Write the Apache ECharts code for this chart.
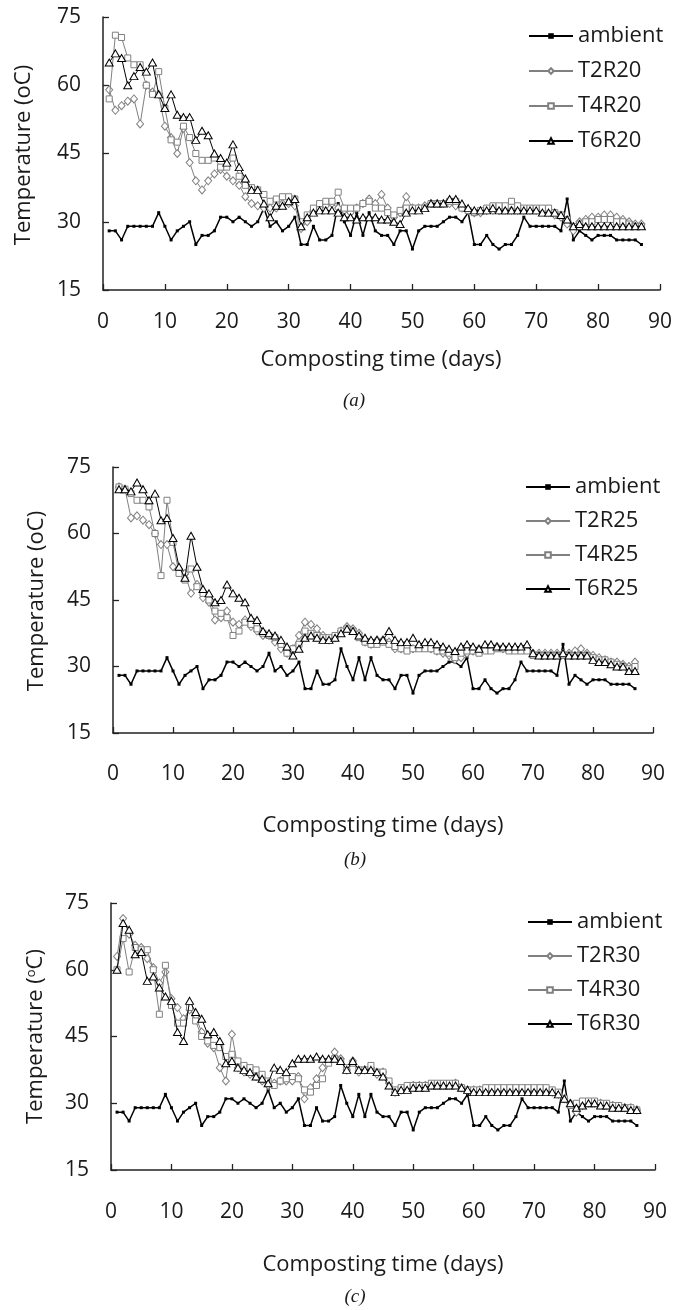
<!DOCTYPE html>
<html>
<head>
<meta charset="utf-8">
<script src="https://cdn.jsdelivr.net/npm/echarts@6/dist/echarts.min.js"></script>
<style>
html,body{margin:0;padding:0;background:#fff;}
#chart{width:675px;height:1310px;}
</style>
</head>
<body>
<div id="chart"></div>
<script>
// ---------------- data ----------------
const days = [1,2,3,4,5,6,7,8,9,10,11,12,13,14,15,16,17,18,19,20,21,22,23,24,25,26,27,28,29,30,
31,32,33,34,35,36,37,38,39,40,41,42,43,44,45,46,47,48,49,50,51,52,53,54,55,56,57,58,59,60,
61,62,63,64,65,66,67,68,69,70,71,72,73,74,75,76,77,78,79,80,81,82,83,84,85,86,87];

const xTicks = [0,10,20,30,40,50,60,70,80,90];
const yTicks = [15,30,45,60,75];

const ambient = [28,28,26,29,29,29,29,29,32,29, 26,28,29,30,25,27,27,28,31,31,
30,31,30,29,30,33,29,30,28,29, 31,25,25,29,26,26,27,34,30,27,
32,27,32,28,27,27,25,28,28,24, 28,29,29,29,30,31,31,30,32,25,
25,27,25,24,25,25,27,31,29,29, 29,29,29,28,35,26,28,27,26,27,
27,27,26,26,26,26,25];

// Panel (a)
const T2R20 = [59,54.5,55.5,56.5,57,51.5,60,58.5,58,51, 48.5,45,50.5,43,39,37,39,40.5,41.5,40,
39,38,35.5,34,33.5,33,33,33,34,34, 33.5,28.5,30,32.5,33,33.5,34,33,32.5,32,
33,34,35,34,36,33,31,32,35.5,33, 33,33.5,34,34,34,34,33.5,33,32.5,32,
32,32.5,32.5,32.5,32.5,32.5,32.5,32.5,32.5,32.5, 32.5,32,31.5,31,29.5,28,30,30.5,31,31,
31.5,31.5,31,30.5,30,29.5,29.5];
const T4R20 = [57,71,70.5,66,64.5,64.5,60,58,63,55, 48,47.5,51,48.5,45,43.5,43.5,44,42,42,
44,40,38,37.5,37,36,34.5,35,35.5,35.5, 35,30,31.5,33,34,34.5,34.5,36.5,33,33,
33,34,34.5,33,33,32,31.5,32.5,33,33, 33,33,34,34,34,34.5,34.5,33,32.5,32,
32.5,33,33.5,33.5,33.5,34.5,33.5,33,33,33, 33,33,32,31.5,30.5,29,29.5,30,30,30.5,
30.5,30.5,30,30,29.5,29,29];
const T6R20 = [65,67,66,60,62,64,63,65,58,55, 58,53.5,53,53,48,50,49,45,44,43,
47,42,39.5,37,37,34,31,33.5,33.5,34.5, 35,29,31,32,32.5,32.5,32.5,32,31,31,
30.5,31,31,31,30.5,30.5,30,29.5,32,32.5, 32.5,33,34,34,34,35,35,34,33,32.5,
32.5,32.5,33,32.5,32.5,32.5,32.5,32.5,32.5,32.5, 32,32,32,31.5,30.5,29,29.5,29,29,29,
29,29,29,29,29,29,29];

// Panel (b)
const T2R25 = [70.5,70,63.5,64,63,62,60,57.5,57.5,52.5, 52,51,46.5,48.5,45.5,44.5,40.5,41,42.5,40,
39.5,40.5,39,38,37,37,35.5,34,33,34, 37,40,39.5,38.5,37,36,36.5,38,39,38.5,
37.5,35.5,35,36,36,35.5,34,34,34.5,34, 34.5,34.5,34,33.5,33,32.5,31.5,32,33,33.5,
34,34,34,34.5,34,34,34,34,34,33, 33,33,33,33,33,33,33.5,34,33,32.5,
32,31.5,31,31,30.5,30,31];
const T4R25 = [70.5,70,69,67.5,67.5,66,60,50.5,67.5,58, 51,49.5,52,48,46.5,45,42.5,42,41,37,
38,40,39.5,38.5,37.5,37,36.5,35,33,34, 35,38,37.5,37,36.5,36.5,37,38,38.5,38,
36.5,35.5,35,35,35.5,35,34.5,34,33.5,34, 34,34,34,33.5,33.5,33,32,33,33.5,33.5,
33,33.5,33.5,34,34,33.5,33.5,33.5,33.5,32.5, 32.5,32.5,32.5,32.5,32.5,32.5,32.5,32.5,32.5,32,
31.5,31.5,31,30.5,30,29.5,30];
const T6R25 = [70,70,69.5,71.5,70,67.5,69,63,63.5,59, 52.5,50,59.5,52.5,47.5,46.5,44.5,45,48.5,46.5,
45.5,44.5,41,40.5,38,37.5,37,36,34.5,32.5, 34,36.5,37,36.5,36,36,36.5,37.5,38.5,38,
37,36.5,36,36,36,38,36,35.5,35.5,36.5, 35,35.5,35.5,35,34.5,34,33.5,34.5,35,34.5,
34,35,35,34.5,34.5,34.5,34.5,34.5,35,33, 32.5,32.5,32.5,32.5,33,32.5,32.5,32.5,32.5,31.5,
31,31,30.5,30,30,29,29];

// Panel (c)
const T2R30 = [63,71.5,68,65.5,65,62.5,60.5,57,59.5,53.5, 51.5,49,51,49.5,46,43.5,42.5,38,35,45.5,
38,37,36.5,36,35,34,34.5,35,35,35, 36,31,33.5,35.5,38,39.5,41.5,40,37.5,39.5,
37,37.5,38,36.5,37,34.5,32.5,33,33.5,34, 34,34,34,34,34,34,34.5,33.5,33,33,
33,33,33,33,33,33,33,33,33,33, 33,33,32.5,32,31,30,28,29.5,30,30,
30,29.5,29.5,29,29,29,28.5];
const T4R30 = [60,67,59.5,65,64.5,64.5,60,50,61,52, 48,48,51.5,48.5,45,44,43,42.5,40.5,41,
39.5,38.5,38,37.5,36.5,35,34,35,35.5,36, 35.5,33,32.5,34,35.5,39,40,39.5,38,39,
37.5,37.5,38.5,37,37,35,33,33.5,34,34, 34,34,34.5,34.5,34.5,34.5,34.5,33.5,33,33,
33,33.5,33.5,33.5,33.5,33.5,33.5,33.5,33.5,33.5, 33.5,33.5,33,32.5,31,29.5,30,30.5,30.5,30.5,
30,30,29.5,29.5,29,29,28.5];
const T6R30 = [60,70.5,69,63.5,64,57.5,58.5,56,54,53, 46,44,53,50.5,49,45.5,46,44,39,39.5,
38,37.5,37,36,35.5,34.5,38,37.5,37,39, 40,40,40,40.5,40,40,40,39.5,37.5,39.5,
37.5,37.5,37.5,37,36,34,32.5,33,33,33.5, 33.5,33.5,34,34,34,34,34,33.5,33,32.5,
32.5,32.5,32.5,32.5,32.5,32.5,32.5,32.5,32.5,32.5, 32.5,32.5,32.5,32,31,30,29,29.5,30,30,
29.5,29.5,29,29,29,28.5,28.5];

const panels = [
  {names:['ambient','T2R20','T4R20','T6R20'], vals:[ambient,T2R20,T4R20,T6R20]},
  {names:['ambient','T2R25','T4R25','T6R25'], vals:[ambient,T2R25,T4R25,T6R25]},
  {names:['ambient','T2R30','T4R30','T6R30'], vals:[ambient,T2R30,T4R30,T6R30]}
];

// ---------------- layout / style ----------------
const FONT = '"Open Sans", "Noto Sans", sans-serif';
const TXT = '#1a1a1a';
const GRAY = '#808080';
const grids = [
  {left:103, top:17,  width:557, height:273},
  {left:113, top:467, width:540, height:266},
  {left:111, top:903, width:544, height:267}
];
const xLabelMargin = [22, 31, 32];
const legendPos = [{left:523, top:20, gap:13}, {left:520, top:471, gap:12}, {left:522, top:906, gap:12}];

const seriesStyle = [
  {color:'#000', symbol:'rect', symbolSize:3, width:1.5, hollow:false},
  {color:GRAY, symbol:'diamond', symbolSize:[7,8], width:1, hollow:true},
  {color:GRAY, symbol:'rect', symbolSize:6, width:1, hollow:true},
  {color:'#000', symbol:'triangle', symbolSize:[8,7], width:1, hollow:true}
];

const pairs = v => days.map((d,i)=>[d, v[i]]);

const xAxes = [], yAxes = [], series = [], legends = [];
panels.forEach((p, k) => {
  xAxes.push({
    type:'value', gridIndex:k, min:0, max:90, interval:10,
    axisLine:{show:true, onZero:false, lineStyle:{color:'#222', width:1.5}},
    axisTick:{show:true, inside:true, length:6, lineStyle:{color:'#222', width:1.3}},
    axisLabel:{color:TXT, fontFamily:FONT, fontSize:21, margin:xLabelMargin[k],
      formatter: v => xTicks.includes(v) ? String(v) : ''},
    splitLine:{show:false}
  });
  yAxes.push({
    type:'value', gridIndex:k, min:15, max:75, interval:15,
    axisLine:{show:true, lineStyle:{color:'#222', width:1.5}},
    axisTick:{show:true, inside:true, length:6, lineStyle:{color:'#222', width:1.3}},
    axisLabel:{color:TXT, fontFamily:FONT, fontSize:21, margin:22,
      formatter: v => yTicks.includes(v) ? String(v) : ''},
    splitLine:{show:false}
  });
  p.names.forEach((nm, j) => {
    const st = seriesStyle[j];
    series.push({
      type:'line', name:nm, xAxisIndex:k, yAxisIndex:k,
      data: pairs(p.vals[j]),
      symbol: st.symbol, symbolSize: st.symbolSize, showAllSymbol:true,
      lineStyle:{color:st.color, width:st.width},
      itemStyle:{color: st.hollow ? '#fff' : st.color, borderColor:st.color, borderWidth: st.hollow ? 1 : 0},
      emphasis:{disabled:true}, animation:false, z: 2 + j
    });
  });
  legends.push({
    orient:'vertical', left:legendPos[k].left, top:legendPos[k].top,
    itemGap:legendPos[k].gap, itemWidth:44, itemHeight:7,
    data: p.names,
    textStyle:{color:TXT, fontFamily:FONT, fontSize:22, lineHeight:22},
    selectedMode:false
  });
});

const axisNameStyle = {fontFamily:FONT, fontSize:22, fill:TXT, textAlign:'center', textVerticalAlign:'middle'};
const capFont = 'italic 19px "Liberation Serif", serif';
const graphics = [
  {type:'text', x:24, y:155, rotation:Math.PI/2, style:Object.assign({text:'Temperature (oC)'}, axisNameStyle)},
  {type:'text', x:37, y:601, rotation:Math.PI/2, style:Object.assign({text:'Temperature (oC)'}, axisNameStyle)},
  {type:'text', x:381, y:360, style:Object.assign({text:'Composting time (days)'}, axisNameStyle)},
  {type:'text', x:383, y:826, style:Object.assign({text:'Composting time (days)'}, axisNameStyle)},
  {type:'text', x:383, y:1265, style:Object.assign({text:'Composting time (days)'}, axisNameStyle)},
  {type:'text', x:354, y:401, style:{text:'(a)', font:capFont, fill:TXT, textAlign:'center', textVerticalAlign:'middle'}},
  {type:'text', x:355, y:860, style:{text:'(b)', font:capFont, fill:TXT, textAlign:'center', textVerticalAlign:'middle'}},
  {type:'text', x:355, y:1297, style:{text:'(c)', font:capFont, fill:TXT, textAlign:'center', textVerticalAlign:'middle'}}
];

const chart = echarts.init(document.getElementById('chart'), null, {renderer:'canvas'});
chart.setOption({
  backgroundColor:'#fff',
  animation:false,
  grid: grids,
  xAxis: xAxes,
  yAxis: yAxes,
  legend: legends,
  series: series,
  graphic: graphics
});

// y-axis name of panel (c) with superscript o (rich text)
chart.setOption({
  yAxis: [{}, {}, {
    name:'{t|Temperature (}{s|o}{t|C)}', nameLocation:'middle', nameGap:64, nameRotate:90,
    nameTextStyle:{rich:{
      t:{fontFamily:FONT, fontSize:22, color:TXT},
      s:{fontFamily:FONT, fontSize:13, color:TXT, verticalAlign:'top', padding:[0,0,8,0]}
    }}
  }]
});
</script>
</body>
</html>
